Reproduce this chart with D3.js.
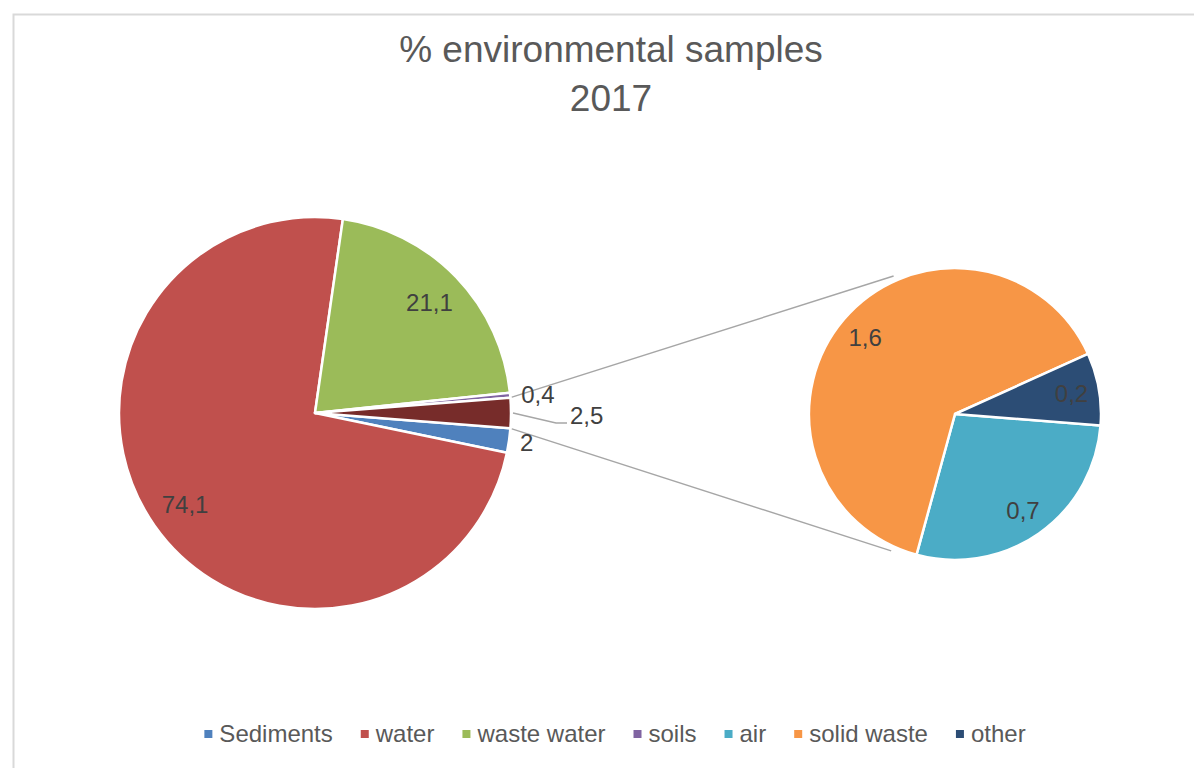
<!DOCTYPE html>
<html>
<head>
<meta charset="utf-8">
<script src="https://d3js.org/d3.v7.min.js"></script>
<style>
	body { margin: 0; background: #ffffff; }
	text { font-family: "Liberation Sans", Arial, sans-serif; }
</style>
</head>
<body>
<script>

//-----------------------------------------------------------------------------------------------------------------DATA

var categories = ["Sediments", "water", "waste water", "soils", "air", "solid waste", "other"];
var values = [2, 74.1, 21.1, 0.4, 0.7, 1.6, 0.2];
var colors = ["#4f81bd", "#c0504d", "#9bbb59", "#8064a2", "#4bacc6", "#f79646", "#2c4d75"];

// first pie keeps these, the rest is pulled out into the second pie
var mainCategories = ["Sediments", "water", "waste water", "soils"];
var splitCategories = ["air", "solid waste", "other"];
var groupColor = "#772c2a";

var titleLines = ["% environmental samples", "2017"];

//-----------------------------------------------------------------------------------------------------------------LAYOUT

var width = 1194, height = 768;

var mainPie = { "cx": 315, "cy": 413, "r": 196 };
var subPie = { "cx": 955, "cy": 414, "r": 146 };

var svg = d3.select("body").append("svg")
	.attr("width", width)
	.attr("height", height);

// chart area frame
svg.append("rect")
	.attr("x", 13.5)
	.attr("y", 14.5)
	.attr("width", width + 20)
	.attr("height", height + 20)
	.attr("fill", "#ffffff")
	.attr("stroke", "#d9d9d9")
	.attr("stroke-width", 2);

//title
svg.selectAll(".title").data(titleLines).enter().append("text")
	.attr("class", "title")
	.attr("x", 611)
	.attr("y", function(d, i){ return 62 + i * 49; })
	.attr("text-anchor", "middle")
	.attr("font-size", 37)
	.attr("fill", "#595959")
	.text(function(d){ return d; });

function valueOf(name){ return values[categories.indexOf(name)]; }
function colorOf(name){ return colors[categories.indexOf(name)]; }
function fmt(v){ return String(Math.round(v * 10) / 10).replace(".", ","); }

var groupValue = d3.sum(splitCategories, valueOf);

var mainData = mainCategories.map(function(c){ return { "name": c, "value": valueOf(c), "color": colorOf(c) }; });
mainData.push({ "name": "group", "value": groupValue, "color": groupColor });

var subData = splitCategories.map(function(c){ return { "name": c, "value": valueOf(c), "color": colorOf(c) }; });

var total = d3.sum(mainData, function(d){ return d.value; });
var groupAngle = groupValue / total * 2 * Math.PI;
var start = Math.PI / 2 + groupAngle / 2;

//-----------------------------------------------------------------------------------------------------------------MAIN PIE

var mainArcs = d3.pie().sort(null).value(function(d){ return d.value; })
	.startAngle(start).endAngle(start + 2 * Math.PI)(mainData);

var subArcs = d3.pie().sort(null).value(function(d){ return d.value; })
	.startAngle(start).endAngle(start + 2 * Math.PI)(subData);

function point(cx, cy, r, a){ return [cx + r * Math.sin(a), cy - r * Math.cos(a)]; }

// connector lines from the group slice to the second pie
var groupArc = mainArcs[mainArcs.length - 1];
var connTop = [point(mainPie.cx, mainPie.cy, mainPie.r, groupArc.startAngle), point(subPie.cx, subPie.cy, subPie.r + 5, 336 * Math.PI / 180)];
var connBot = [point(mainPie.cx, mainPie.cy, mainPie.r, groupArc.endAngle), point(subPie.cx, subPie.cy, subPie.r + 5, 205 * Math.PI / 180)];

svg.selectAll(".connector").data([connTop, connBot]).enter().append("path")
	.attr("class", "connector")
	.attr("d", d3.line())
	.attr("fill", "none")
	.attr("stroke", "#a6a6a6")
	.attr("stroke-width", 1.5);

var mainArc = d3.arc().innerRadius(0).outerRadius(mainPie.r);
var mainG = svg.append("g").attr("transform", "translate(" + mainPie.cx + "," + mainPie.cy + ")");

mainG.selectAll("path").data(mainArcs).enter().append("path")
	.attr("d", mainArc)
	.attr("fill", function(d){ return d.data.color; })
	.attr("stroke", "#ffffff")
	.attr("stroke-width", 2.5)
	.attr("stroke-linejoin", "round");

var subArc = d3.arc().innerRadius(0).outerRadius(subPie.r);
var subG = svg.append("g").attr("transform", "translate(" + subPie.cx + "," + subPie.cy + ")");

subG.selectAll("path").data(subArcs).enter().append("path")
	.attr("d", subArc)
	.attr("fill", function(d){ return d.data.color; })
	.attr("stroke", "#ffffff")
	.attr("stroke-width", 2.5)
	.attr("stroke-linejoin", "round");

//-----------------------------------------------------------------------------------------------------------------LABELS

var labelSize = 24;
var labelColor = "#404040";

function drawLabels(g, arcs, r){
	var inner = d3.arc().innerRadius(r * 0.81).outerRadius(r * 0.81);
	arcs.forEach(function(d){
		var mid = (d.startAngle + d.endAngle) / 2;
		var big = (d.endAngle - d.startAngle) > 0.3;
		if(d.data.name == "group"){
			// leader line for the group label
			var p0 = point(0, 0, r + 2, mid);
			var p1 = [p0[0] + 43, p0[1] + 10];
			var p2 = [p1[0] + 11, p1[1]];
			g.append("path")
				.attr("d", d3.line()([p0, p1, p2]))
				.attr("fill", "none")
				.attr("stroke", "#a6a6a6")
				.attr("stroke-width", 1.3);
			g.append("text")
				.attr("x", p2[0] + 3)
				.attr("y", p2[1] + 1)
				.attr("font-size", labelSize)
				.attr("fill", labelColor)
				.text(fmt(d.value));
		}else if(big){
			var c = inner.centroid(d);
			g.append("text")
				.attr("x", c[0])
				.attr("y", c[1])
				.attr("text-anchor", "middle")
				.attr("dominant-baseline", "central")
				.attr("font-size", labelSize)
				.attr("fill", labelColor)
				.text(fmt(d.value));
		}else{
			var q = point(0, 0, r + 11, mid);
			g.append("text")
				.attr("x", q[0])
				.attr("y", q[1])
				.attr("dominant-baseline", "central")
				.attr("font-size", labelSize)
				.attr("fill", labelColor)
				.text(fmt(d.value));
		}
	});
}

drawLabels(mainG, mainArcs, mainPie.r);
drawLabels(subG, subArcs, subPie.r);

//-----------------------------------------------------------------------------------------------------------------LEGEND

var legend = svg.append("g");
var items = legend.selectAll("g").data(categories).enter().append("g");

items.append("rect")
	.attr("x", 0)
	.attr("y", -12)
	.attr("width", 8)
	.attr("height", 8)
	.attr("fill", function(d){ return colorOf(d); });

items.append("text")
	.attr("x", 15)
	.attr("y", 0)
	.attr("font-size", 24)
	.attr("fill", "#595959")
	.text(function(d){ return d; });

var xPos = 0;
items.each(function(){
	var w = d3.select(this).select("text").node().getComputedTextLength();
	d3.select(this).attr("transform", "translate(" + xPos + ",0)");
	xPos += 15 + w + 28;
});
var legendWidth = xPos - 28;
legend.attr("transform", "translate(" + (615 - legendWidth / 2) + ",742)");

</script>
</body>
</html>
